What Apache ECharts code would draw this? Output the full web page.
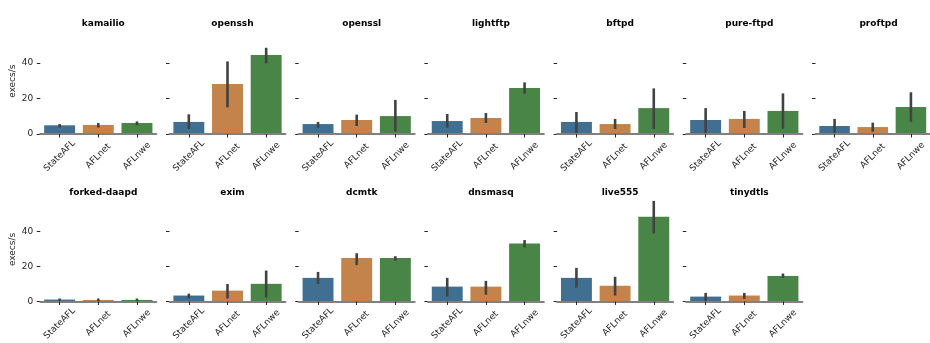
<!DOCTYPE html>
<html>
<head>
<meta charset="utf-8">
<script src="https://cdn.jsdelivr.net/npm/echarts@6/dist/echarts.min.js"></script>
<style>html,body{margin:0;padding:0;background:#fff}#c{width:930px;height:343px}</style>
</head>
<body>
<div id="c"></div>
<script>
const panels = ['kamailio','openssh','openssl','lightftp','bftpd','pure-ftpd','proftpd','forked-daapd','exim','dcmtk','dnsmasq','live555','tinydtls'];
const fuzzers = ['StateAFL','AFLnet','AFLnwe'];
const yTicks = [0, 20, 40];

const stateafl = [4.9, 6.8, 5.6, 7.3, 6.8, 7.9, 4.5, 1.1, 3.4, 13.5, 8.5, 13.5, 2.8];
const aflnet   = [5.1, 28.2, 7.9, 9.0, 5.6, 8.5, 3.9, 0.9, 6.2, 24.8, 8.5, 9.0, 3.4];
const aflnwe   = [6.2, 44.5, 10.1, 25.9, 14.6, 13.0, 15.2, 0.9, 10.1, 24.8, 33.2, 48.5, 14.6];

const stateLo = [3.6, 2.8, 3.6, 3.6, 0.2, 0.0, 0.0, 0.3, 1.7, 10.1, 2.8, 7.9, 0.0];
const stateHi = [5.6, 11.1, 6.8, 11.3, 12.4, 14.6, 8.5, 1.7, 4.5, 16.9, 13.5, 19.2, 4.9];
const netLo   = [3.6, 15.0, 4.5, 6.2, 2.8, 3.4, 1.3, 0.2, 1.7, 20.8, 3.9, 3.4, 1.5];
const netHi   = [6.2, 40.9, 10.9, 11.8, 8.5, 13.0, 6.4, 1.7, 10.0, 27.6, 11.8, 14.1, 4.9];
const nweLo   = [4.9, 39.8, 1.3, 22.7, 2.8, 3.0, 6.9, 0.1, 2.3, 23.3, 31.0, 38.9, 13.5];
const nweHi   = [7.1, 48.6, 19.2, 29.1, 25.7, 22.9, 23.5, 1.7, 17.7, 25.9, 35.1, 57.5, 16.0];

const colors = ['#416f91', '#c3834a', '#4a8548'];
const FONT = 'DejaVu Sans';

const chart = echarts.init(document.getElementById('c'), null, {renderer: 'canvas'});
const grids = [], xAxes = [], yAxes = [], series = [], titles = [];
const W = 116, H = 105.6, PITCH = 129.2, LEFT0 = 40.3, TOPS = [28.4, 197.4];

panels.forEach((name, i) => {
  const col = i % 7, row = Math.floor(i / 7);
  const left = LEFT0 + PITCH * col, top = TOPS[row];
  grids.push({left: left, top: top, width: W, height: H, containLabel: false});
  titles.push({
    text: name, left: left + W / 2, top: top - 14.5, textAlign: 'center',
    textStyle: {fontSize: 9, fontWeight: 'bold', color: '#000', fontFamily: FONT}
  });
  xAxes.push({
    type: 'category', gridIndex: i, data: fuzzers, z: 5,
    axisLine: {show: true, lineStyle: {color: '#808080', width: 2}},
    axisTick: {show: true, alignWithLabel: true, length: 3.5, lineStyle: {color: '#262626', width: 1}},
    axisLabel: {rotate: 45, align: 'center', verticalAlign: 'middle', fontSize: 9, color: '#262626',
                margin: 22, fontFamily: FONT, interval: 0},
    splitLine: {show: false}
  });
  yAxes.push({
    type: 'value', gridIndex: i, min: 0, max: 59.5,
    axisLine: {show: false},
    splitLine: {show: false},
    axisTick: {show: true, length: 3.5, customValues: yTicks, lineStyle: {color: '#262626', width: 1}},
    axisLabel: {show: col === 0, customValues: yTicks, fontSize: 9, color: '#262626', margin: 7, fontFamily: FONT},
    name: col === 0 ? 'execs/s' : '',
    nameLocation: 'middle', nameGap: 23,
    nameTextStyle: {fontSize: 9, color: '#262626', fontFamily: FONT}
  });
  series.push({
    type: 'bar', xAxisIndex: i, yAxisIndex: i, barWidth: '80%',
    data: [stateafl[i], aflnet[i], aflnwe[i]].map((v, k) => ({value: v, itemStyle: {color: colors[k]}})),
    silent: true, animation: false
  });
  series.push({
    type: 'custom', xAxisIndex: i, yAxisIndex: i, z: 4,
    data: [[0, stateLo[i], stateHi[i]], [1, netLo[i], netHi[i]], [2, nweLo[i], nweHi[i]]],
    renderItem: function (params, api) {
      const p1 = api.coord([api.value(0), api.value(1)]);
      const p2 = api.coord([api.value(0), api.value(2)]);
      return {type: 'line', shape: {x1: p1[0], y1: p1[1], x2: p2[0], y2: p2[1]},
              style: {stroke: '#424242', lineWidth: 2.6}};
    },
    silent: true, animation: false
  });
});

chart.setOption({
  animation: false,
  backgroundColor: '#fff',
  title: titles, grid: grids, xAxis: xAxes, yAxis: yAxes, series: series
});
</script>
</body>
</html>
